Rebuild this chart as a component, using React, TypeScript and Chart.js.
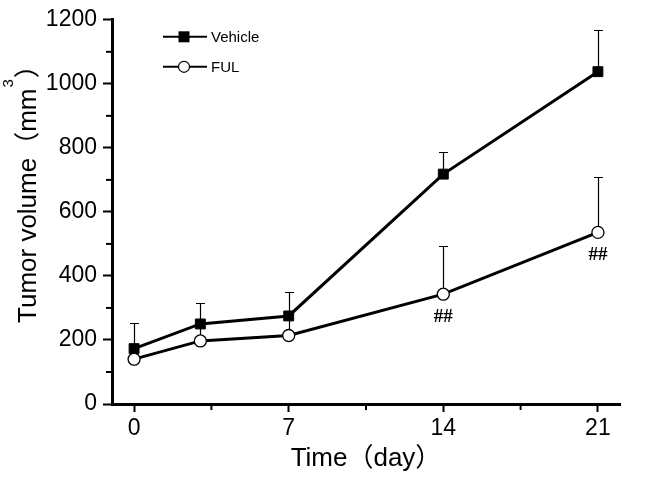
import React, { useEffect, useRef } from "react";
import { Chart, registerables } from "chart.js";

Chart.register(...registerables);

// ---- data ----
const days = [0, 3, 7, 14, 21];
const vehicleMean = [173, 250, 275, 718, 1038];
const vehicleSD = [81, 65, 75, 68, 131];
const fulMean = [140, 197, 214, 343, 536];
const fulSD = [33, 50, 65, 149, 172];
const fulMarks = ["", "", "", "##", "##"];
const seriesNames = ["Vehicle", "FUL"];
const xTickValues = [0, 7, 14, 21];
const xMinorValues = [3.5, 10.5, 17.5];
const yTickValues = [0, 200, 400, 600, 800, 1000, 1200];
const yMinorValues = [100, 300, 500, 700, 900, 1100];
const xTitle = "Time（day）";
const yTitleMain = "Tumor volume（mm";
const yTitleSup = "3";
const yTitleEnd = "）";

const FONT = "'Liberation Sans', Arial, 'Noto Sans CJK SC', sans-serif";

const errorBarsPlugin = {
  id: "errorBars",
  beforeDatasetsDraw(chart: any) {
    const ctx = chart.ctx;
    const xs = chart.scales.x;
    const ys = chart.scales.y;
    const sets: [number[], number[]][] = [
      [vehicleMean, vehicleSD],
      [fulMean, fulSD],
    ];
    ctx.save();
    ctx.strokeStyle = "#000";
    ctx.lineWidth = 1.2;
    sets.forEach(([m, sd]) => {
      m.forEach((v, i) => {
        const px = Math.round(xs.getPixelForValue(days[i])) + 0.5;
        const p0 = ys.getPixelForValue(v);
        const p1 = Math.round(ys.getPixelForValue(v + sd[i])) + 0.5;
        ctx.beginPath();
        ctx.moveTo(px, p0);
        ctx.lineTo(px, p1);
        ctx.moveTo(px - 4.5, p1);
        ctx.lineTo(px + 4.5, p1);
        ctx.stroke();
      });
    });
    ctx.restore();
  },
};

const decorPlugin = {
  id: "decor",
  afterDraw(chart: any) {
    const ctx = chart.ctx;
    const xs = chart.scales.x;
    const ys = chart.scales.y;
    const area = chart.chartArea;
    ctx.save();
    ctx.strokeStyle = "#000";
    ctx.fillStyle = "#000";

    // minor ticks
    ctx.lineWidth = 2;
    xMinorValues.forEach((v) => {
      const px = xs.getPixelForValue(v);
      ctx.beginPath();
      ctx.moveTo(px, area.bottom);
      ctx.lineTo(px, area.bottom + 6);
      ctx.stroke();
    });
    yMinorValues.forEach((v) => {
      const py = ys.getPixelForValue(v);
      ctx.beginPath();
      ctx.moveTo(area.left, py);
      ctx.lineTo(area.left - 6, py);
      ctx.stroke();
    });

    // significance marks under FUL points
    ctx.font = "bold 19px 'Liberation Serif', 'Times New Roman', serif";
    ctx.textAlign = "center";
    ctx.textBaseline = "middle";
    fulMarks.forEach((t, i) => {
      if (!t) return;
      const px = xs.getPixelForValue(days[i]);
      const py = ys.getPixelForValue(fulMean[i]);
      ctx.fillText(t, px, py + 23);
    });

    // legend
    const lx0 = area.left + 51;
    const lx1 = area.left + 95;
    const mx = area.left + 72;
    const rows = [area.top + 17, area.top + 47];
    ctx.font = "15px " + FONT;
    ctx.textAlign = "left";
    ctx.textBaseline = "middle";
    rows.forEach((ry, k) => {
      ctx.lineWidth = 2;
      ctx.beginPath();
      ctx.moveTo(lx0, ry);
      ctx.lineTo(lx1, ry);
      ctx.stroke();
      if (k === 0) {
        ctx.fillStyle = "#000";
        ctx.fillRect(mx - 5.5, ry - 5.5, 11, 11);
      } else {
        ctx.beginPath();
        ctx.arc(mx, ry, 5.5, 0, Math.PI * 2);
        ctx.fillStyle = "#fff";
        ctx.fill();
        ctx.lineWidth = 1.2;
        ctx.stroke();
      }
      ctx.fillStyle = "#000";
      ctx.fillText(seriesNames[k], lx1 + 4, ry + 1);
    });

    // y axis title
    ctx.save();
    ctx.translate(36, 323);
    ctx.rotate(-Math.PI / 2);
    ctx.textAlign = "left";
    ctx.textBaseline = "alphabetic";
    ctx.font = "26px " + FONT;
    ctx.fillText(yTitleMain, 0, 0);
    const w1 = ctx.measureText(yTitleMain).width;
    ctx.font = "15px " + FONT;
    ctx.fillText(yTitleSup, w1 + 1, -23);
    const w2 = ctx.measureText(yTitleSup).width;
    ctx.font = "26px " + FONT;
    ctx.fillText(yTitleEnd, w1 + w2 + 2, 0);
    ctx.restore();

    ctx.restore();
  },
};

export default function App() {
  const ref = useRef<HTMLCanvasElement | null>(null);

  useEffect(() => {
    if (!ref.current) return;
    const chart = new Chart(ref.current, {
      type: "line",
      data: {
        datasets: [
          {
            label: seriesNames[0],
            data: days.map((d, i) => ({ x: d, y: vehicleMean[i] })),
            borderColor: "#000",
            backgroundColor: "#000",
            borderWidth: 3,
            pointStyle: "rect",
            pointRadius: 7,
            pointBorderWidth: 1,
            pointBorderColor: "#000",
            pointBackgroundColor: "#000",
            tension: 0,
          },
          {
            label: seriesNames[1],
            data: days.map((d, i) => ({ x: d, y: fulMean[i] })),
            borderColor: "#000",
            backgroundColor: "#fff",
            borderWidth: 3,
            pointStyle: "circle",
            pointRadius: 6,
            pointBorderWidth: 1.3,
            pointBorderColor: "#000",
            pointBackgroundColor: "#fff",
            tension: 0,
          },
        ],
      },
      options: {
        responsive: false,
        animation: false,
        devicePixelRatio: 1,
        clip: false as any,
        layout: { padding: { top: 16, right: 26, left: 0, bottom: 0 } },
        plugins: {
          legend: { display: false },
          tooltip: { enabled: false },
        },
        scales: {
          x: {
            type: "linear",
            min: -1,
            max: 22,
            afterBuildTicks: (s: any) => {
              s.ticks = xTickValues.map((v) => ({ value: v }));
            },
            afterFit: (s: any) => {
              s.height = 73;
            },
            grid: {
              drawOnChartArea: false,
              drawTicks: true,
              tickLength: 8,
              tickWidth: 2,
              tickColor: "#000",
            },
            border: { display: true, color: "#000", width: 3 },
            ticks: {
              color: "#000",
              font: { family: FONT, size: 23 },
              padding: 3,
              maxRotation: 0,
              callback: (v: any) => String(v),
            },
            title: {
              display: true,
              text: xTitle,
              color: "#000",
              font: { family: FONT, size: 26 },
              padding: { top: 0, bottom: 3 },
            },
          },
          y: {
            type: "linear",
            min: 0,
            max: 1200,
            afterBuildTicks: (s: any) => {
              s.ticks = yTickValues.map((v) => ({ value: v }));
            },
            afterFit: (s: any) => {
              s.width = 112;
            },
            grid: {
              drawOnChartArea: false,
              drawTicks: true,
              tickLength: 9,
              tickWidth: 2,
              tickColor: "#000",
            },
            border: { display: true, color: "#000", width: 3 },
            ticks: {
              color: "#000",
              font: { family: FONT, size: 23 },
              padding: 6,
              callback: (v: any) => String(v),
            },
          },
        },
      },
      plugins: [errorBarsPlugin, decorPlugin],
    });
    return () => chart.destroy();
  }, []);

  return (
    <div
      style={{
        position: "fixed",
        left: 0,
        top: 0,
        width: 646,
        height: 477,
        background: "#fff",
      }}
    >
      <canvas ref={ref} width={646} height={477} />
    </div>
  );
}
